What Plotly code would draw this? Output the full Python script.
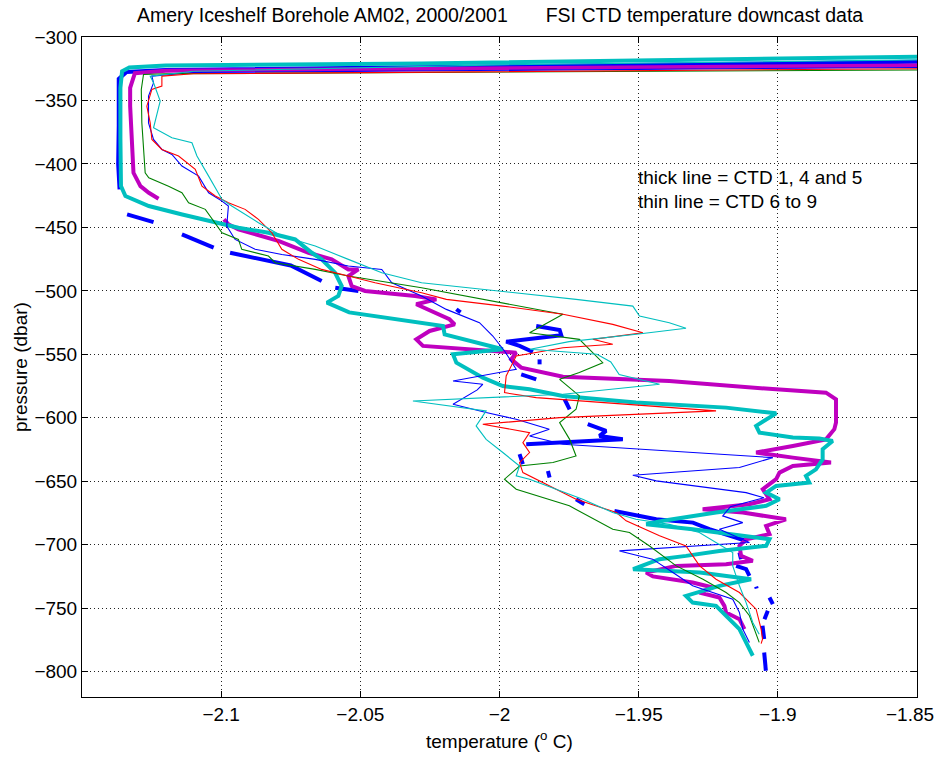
import plotly.graph_objects as go

# ---------------- data (temperature degC, pressure dbar) ----------------
# thick lines: CTD 1 (blue), CTD 4 (magenta), CTD 5 (cyan); None = data gap
ctd1_T = [-1.85, -2.0, -2.12, -2.134, -2.1368, -2.1368, -2.137, -2.1365, None,
          -2.1338, -2.1243, None,
          -2.1141, -2.1027, None,
          -2.0968, -2.085, -2.075, -2.0639, None,
          -2.059, -2.0507, None,
          -2.0155, -2.014, None,
          -1.9868, -1.9784, -1.9778, -1.9892, -1.9976, -1.9928, -1.988, None,
          -1.9856, -1.9856, None,
          -1.9922, -1.9868, None,
          -1.9766, -1.9748, None,
          -1.9683, -1.9617, -1.9641, -1.9557, -1.9904, None,
          -1.9928, -1.9916, None,
          -1.9826, -1.982, None,
          -1.9725, -1.9695, None,
          -1.9587, -1.9437, -1.9305, -1.9246, -1.9132, -1.9114, None,
          -1.9138, -1.9132, None,
          -1.915, -1.9114, -1.9102, None,
          -1.9078, -1.9076, None,
          -1.903, -1.9018, None,
          -1.9036, -1.9048, None,
          -1.9055, -1.9049, None,
          -1.9049, -1.9043]
ctd1_P = [-319.5, -323, -326, -327.5, -333, -370, -400, -420, None,
          -439.8, -445.8, None,
          -455.5, -466, None,
          -470, -475, -480, -492.3, None,
          -497.5, -500.1, None,
          -514.5, -517, None,
          -527.7, -530.8, -535, -537.7, -540, -543.4, -548.2, None,
          -554, -557.9, None,
          -565.8, -569.7, None,
          -585.4, -593.3, None,
          -605.1, -610.4, -614.3, -616.9, -620.9, None,
          -628.7, -636.6, None,
          -641.9, -647.1, None,
          -664.2, -668.1, None,
          -673.4, -680, -682.6, -687.8, -695.7, -697, None,
          -706.2, -711.4, None,
          -716.7, -719.3, -724.5, None,
          -733, -734.5, None,
          -741.6, -746.9, None,
          -752.1, -758.7, None,
          -763.9, -774.4, None,
          -784.9, -799.3]

ctd4_T = [-1.85, -2.0, -2.12, -2.131, -2.1327, -2.1327, -2.132, -2.1315, -2.129, -2.126, -2.1225, None,
          -2.099, -2.0974, -2.0938, -2.0792, -2.0686, -2.0603, -2.0543, -2.0507, -2.0543, -2.0531,
          -2.0483, -2.0303, -2.0227, -2.0299, -2.018, -2.0161, -2.0251, -2.0299, -2.0275, -2.0131,
          -1.9988, -1.994, -1.9958, -1.9922, -1.9772, -1.939, -1.9006, -1.8827, -1.8791, -1.8791,
          -1.8797, -1.8827, -1.8946, -1.9078, -1.8946, -1.8809, -1.8946, -1.8994, -1.9006, -1.9054,
          -1.903, -1.9102, -1.927, -1.9126, -1.8971, -1.9042, -1.903, -1.9114, -1.9138, -1.9132,
          -1.909, -1.9186, -1.9365, -1.9473, -1.9449, -1.9306, -1.9234, -1.9282, -1.921, -1.9192,
          -1.9186, -1.9138, -1.912]
ctd4_P = [-322.5, -324.5, -326.5, -328.5, -340, -354.5, -380.7, -407, -417.5, -422.7, -427.4, None,
          -443.7, -447.6, -451.6, -460.8, -470, -475.2, -483.1, -483.1, -488.3, -496.2,
          -500.1, -504, -506.7, -510.6, -522.4, -526.4, -531.6, -538.2, -543.4, -545.5,
          -547.4, -548.7, -554, -560.5, -567.6, -571, -577.6, -580.2, -585.4, -603.8,
          -609, -617, -622.2, -627.4, -631.4, -635.3, -638, -643.2, -648.4, -656.3,
          -664.2, -668.1, -672.1, -674.7, -680, -685.2, -691.7, -695.7, -700.9, -708.8,
          -712.7, -715.4, -716.7, -721.9, -725, -729.8, -733.7, -737.7, -741.6, -748.2,
          -753.4, -758.7, -766.5]

ctd5_T = [-1.85, -1.95, -2.028, -2.12, -2.133, -2.1356, -2.1362, -2.1362, -2.136, -2.1344,
          -2.126, -2.114, -2.1045, -2.0938, -2.083, -2.0734, -2.0674, -2.0639, -2.0591, -2.0567,
          -2.0579, -2.062, -2.054, -2.037, -2.0203, -2.0197, -2.0108, -1.9988, -2.0167, -2.0155,
          -2.006, -1.9988, -1.9892, -1.9772, -1.951, -1.939, -1.9186, -1.9006, -1.9078, -1.9066,
          -1.8946, -1.8851, -1.8803, -1.8839, -1.8839, -1.8863, -1.8899, -1.8887, -1.9006, -1.9042,
          -1.8994, -1.9042, -1.9222, -1.9413, -1.9473, -1.9306, -1.9126, -1.903, -1.9042, -1.921,
          -1.933, -1.9425, -1.952, -1.928, -1.9096, -1.921, -1.933, -1.9306, -1.9222, -1.9186,
          -1.9138, -1.912, -1.909]
ctd5_P = [-315.5, -318.5, -320.9, -322.4, -324, -327, -340, -380, -417.5, -425.3,
          -433.2, -439.8, -445, -450.3, -454.2, -459.5, -470, -475.2, -485.7, -496.2,
          -504, -509.3, -517, -522, -527.7, -534.3, -539.5, -546, -550, -556.6,
          -568.4, -575, -577.6, -582.8, -588, -589.4, -592, -596.5, -606.4, -611.7,
          -615.6, -616.4, -618.3, -624.8, -632.7, -640.6, -645.8, -651, -653.7, -659,
          -664.2, -669.4, -674.7, -681.2, -683.9, -687.8, -693.1, -695.7, -700.9, -704.9,
          -708.8, -711.4, -719.3, -721.9, -727.2, -732.4, -740.3, -745.6, -748.2, -756,
          -766.5, -774.4, -787.5]

# thin lines: CTD 6 (blue), 7 (green), 8 (red), 9 (cyan)
ctd6_T = [-1.85, -2.0, -2.11, -2.1249, -2.1243, -2.1261, -2.1261, -2.1243, -2.1213, -2.1177,
          -2.1141, -2.1081, -2.1045, -2.0997, -2.0974, -2.098, -2.095, -2.0878, -2.0782, -2.0662,
          -2.0543, -2.0423, -2.0387, -2.028, -2.0191, -2.0072, -2.0024, -1.998, -1.994, -2.0167,
          -2.006, -2.008, -2.0167, -2.0048, -1.994, -1.9821, -1.9892, -1.9772, -1.939, -1.9018,
          -1.9138, -1.9521, -1.9437, -1.9114, -1.905, -1.917, -1.9198, -1.9126, -1.921, -1.9102,
          -1.9569, -1.945, -1.9377, -1.9306, -1.9162, -1.9138, -1.9126, -1.9102]
ctd6_P = [-324, -326, -328, -330.8, -336.1, -346.6, -367.6, -380.7, -388.6, -392.5,
          -401.7, -409.6, -422.7, -429.3, -433.2, -449, -459.5, -467.3, -471.3, -475.2,
          -480.4, -483.1, -493.6, -504, -514.6, -525.1, -535.6, -548, -561.8, -571,
          -573.6, -578, -589.4, -595.9, -601.2, -609, -614.3, -620.9, -626.1, -631.4,
          -639.2, -645.3, -649.7, -659, -663, -670, -677.3, -682.6, -687.8, -698.3,
          -704.9, -711.4, -721.9, -732.4, -742.9, -753.4, -766.5, -777]

ctd7_T = [-1.85, -2.0, -2.12, -2.1279, -2.1287, -2.1285, -2.1273, -2.126, -2.1189, -2.1141,
          -2.1117, -2.1057, -2.1027, -2.0997, -2.0938, -2.0926, -2.083, -2.0806, -2.0662, -2.0543,
          -2.028, -2.006, -1.9772, -1.9892, -1.9713, -1.9629, -1.9713, -1.9784, -1.9713, -1.9725,
          -1.9784, -1.9748, -1.9725, -1.9808, -1.9928, -1.9982, -1.994, -1.9749, -1.9593, -1.9533,
          -1.9461, -1.9365, -1.9269, -1.9186, -1.9138, -1.9102, -1.9079, -1.9067]
ctd7_P = [-326, -327.5, -329, -329.5, -341.3, -367.6, -407, -410.9, -417.5, -422.7,
          -430.6, -435.8, -445, -454.2, -459.5, -467.3, -472.6, -477.8, -483.1, -488.3,
          -497.5, -506.7, -518.5, -533, -538.2, -556.6, -564.4, -569.7, -582.8, -593.3,
          -603.8, -617, -630.1, -635.3, -638, -648.4, -656.3, -669.4, -687.8, -690.4,
          -701, -716.7, -727.2, -737.7, -745.6, -756, -769, -777]

ctd8_T = [-1.85, -2.0, -2.11, -2.1213, -2.1213, -2.1249, -2.1267, -2.1255, -2.1249, -2.1213,
          -2.1153, -2.1093, -2.1069, -2.1021, -2.0974, -2.0914, -2.0866, -2.0818, -2.0782, -2.0722,
          -2.0639, -2.0543, -2.0447, -2.028, -2.0191, -1.9988, -1.9772, -1.9593, -1.9485, -1.9665,
          -1.9593, -1.9772, -1.994, -1.9976, -1.9982, -1.9868, -1.9784, -1.9222, -1.9784, -2.006,
          -1.9892, -1.9916, -1.9892, -1.9928, -1.9916, -1.982, -1.9725, -1.958, -1.9545, -1.9425,
          -1.933, -1.9281, -1.9222, -1.9138, -1.9078, -1.906, -1.9055, -1.906]
ctd8_P = [-325, -327, -329, -330.8, -338.7, -341.3, -354.5, -367.6, -380.7, -388.6,
          -393.8, -404.3, -417.5, -425.3, -430.6, -435.8, -443.7, -454.2, -467.3, -475.2,
          -483.1, -488.3, -493.6, -501.5, -506.7, -512, -518.5, -526.4, -533, -538.2,
          -542.1, -544.8, -551.3, -567.1, -580.2, -584.1, -585.4, -594.6, -599.9, -605.1,
          -611.7, -619.6, -627.4, -635.3, -643.2, -653.7, -664.2, -674.7, -681.2, -693,
          -701, -716.7, -727.2, -737.7, -750.8, -766.5, -774.4, -778]

ctd9_T = [-1.85, -2.0, -2.11, -2.1255, -2.1243, -2.1219, -2.1243, -2.1177, -2.1105, -2.1087,
          -2.1045, -2.0997, -2.0962, -2.0866, -2.0782, -2.0662, -2.0543, -2.0423, -2.028, -2.0,
          -1.9725, -1.9521, -1.9497, -1.939, -1.933, -1.95, -1.975, -1.989, -1.965, -1.96,
          -1.957, -1.9425, -1.9772, -2.0311, -2.0048, -2.0084, -2.0048, -1.9988, -1.9928, -1.994,
          -1.9892, -1.9701, -1.9593, -1.951, -1.939, -1.9282, -1.9222, -1.9162, -1.9162, -1.9138,
          -1.9114, -1.909, -1.9067]
ctd9_P = [-318, -322, -327, -330.8, -336.1, -350.5, -371.5, -379.4, -383.3, -393.8,
          -409.6, -428, -433.2, -446.3, -456.8, -464.7, -475.2, -485.7, -493.6, -500,
          -506.7, -512, -519.8, -525.1, -529.5, -534, -540, -546, -550, -556,
          -566, -573.6, -581.5, -586.8, -594.6, -606.4, -617, -627.4, -638, -645.8,
          -648.4, -664.2, -674.7, -680, -684, -690.4, -698.3, -706.2, -716.7, -732.4,
          -745.6, -761.3, -770.5]

# x ticks; the last one (-1.85) sits on the right frame edge, its label is placed
# as an annotation so that it stays inside the page
x_ticks = [-2.1, -2.05, -2.0, -1.95, -1.9]
x_ticktext = ["\u22122.1", "\u22122.05", "\u22122", "\u22121.95", "\u22121.9"]
x_edge_label = "\u22121.85"
y_ticks = [-300, -350, -400, -450, -500, -550, -600, -650, -700, -750, -800]
y_ticktext = ["\u2212" + str(abs(v)) for v in y_ticks]

title_text = "Amery Iceshelf Borehole AM02, 2000/2001       FSI CTD temperature downcast data"
note_lines = ["thick line = CTD 1, 4 and 5", "thin line = CTD 6 to 9"]

# ---------------- figure ----------------
FONT = "Liberation Sans, Arial, Helvetica, sans-serif"
fig = go.Figure()

thick = [(ctd1_T, ctd1_P, "#0000ff", "CTD 1"),
         (ctd4_T, ctd4_P, "#bf00bf", "CTD 4"),
         (ctd5_T, ctd5_P, "#00bfbf", "CTD 5")]
thin = [(ctd6_T, ctd6_P, "#0000ff", "CTD 6"),
        (ctd7_T, ctd7_P, "#008000", "CTD 7"),
        (ctd8_T, ctd8_P, "#ff0000", "CTD 8"),
        (ctd9_T, ctd9_P, "#00bfbf", "CTD 9")]

for T, P, c, n in thick:
    fig.add_trace(go.Scatter(x=T, y=P, mode="lines", name=n, connectgaps=False,
                             line=dict(color=c, width=4, shape="linear")))
for T, P, c, n in thin:
    fig.add_trace(go.Scatter(x=T, y=P, mode="lines", name=n,
                             line=dict(color=c, width=1.1)))

axis_common = dict(showline=True, linecolor="black", linewidth=1, mirror="allticks",
                   ticks="inside", ticklen=6, tickcolor="black",
                   showgrid=True, gridcolor="#222222", griddash="1px,3px", gridwidth=1,
                   zeroline=False, automargin=False,
                   tickfont=dict(family=FONT, size=19, color="black"))

fig.update_layout(
    width=938, height=757,
    margin=dict(l=82, r=21, t=37, b=60),
    paper_bgcolor="white", plot_bgcolor="white",
    showlegend=False,
    xaxis=dict(range=[-2.15, -1.85], tickvals=x_ticks, ticktext=x_ticktext, **axis_common),
    yaxis=dict(range=[-820, -299.999], tickvals=y_ticks, ticktext=y_ticktext, **axis_common),
    annotations=[
        dict(text=title_text, xref="paper", yref="paper", x=0.5, y=1.0, yshift=22,
             showarrow=False, xanchor="center", yanchor="middle",
             font=dict(family=FONT, size=19.5, color="black")),
        dict(text=x_edge_label, xref="paper", yref="paper", x=1.0, y=0, xshift=19, yshift=-17,
             showarrow=False, xanchor="right", yanchor="middle",
             font=dict(family=FONT, size=19, color="black")),
        dict(text="temperature (<sup>o</sup> C)", xref="paper", yref="paper", x=0.5, y=0,
             yshift=-43, showarrow=False, xanchor="center", yanchor="middle",
             font=dict(family=FONT, size=19, color="black")),
        dict(text="pressure (dbar)", xref="paper", yref="paper", x=0, xshift=-62, y=0.5,
             showarrow=False, textangle=-90, xanchor="center", yanchor="middle",
             font=dict(family=FONT, size=19, color="black")),
        dict(text=note_lines[0], x=-1.951, y=-410.6, xref="x", yref="y", showarrow=False,
             xanchor="left", yanchor="middle", font=dict(family=FONT, size=19, color="black")),
        dict(text=note_lines[1], x=-1.951, y=-429.3, xref="x", yref="y", showarrow=False,
             xanchor="left", yanchor="middle", font=dict(family=FONT, size=19, color="black")),
    ],
)

fig.write_html("out.html")
